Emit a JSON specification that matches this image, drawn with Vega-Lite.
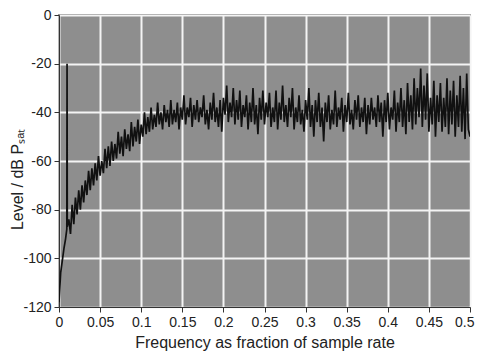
{
"$schema": "https://vega.github.io/schema/vega-lite/v6.json",
"width": 411, "height": 292,
"autosize": "none",
"padding": {"left": 59, "top": 15, "right": 8, "bottom": 48},
"background": "white",
"config": {
  "view": {"fill": "#8e8e8e", "stroke": "#4a4a4a", "strokeWidth": 1.5},
  "axis": {"labelFont": "Liberation Sans", "titleFont": "Liberation Sans", "labelFontSize": 14, "titleFontSize": 16, "titleFontWeight": "normal", "labelColor": "#222", "titleColor": "#222", "gridColor": "#f4f4f4", "gridWidth": 2, "gridOpacity": 1, "domainColor": "#333", "tickColor": "#333", "tickSize": 5, "labelPadding": 3}
},
"data": {"values": [
{"f":0.000,"l":-118},{"f":0.002,"l":-106},{"f":0.004,"l":-101},{"f":0.006,"l":-96},{"f":0.008,"l":-92},{"f":0.0095,"l":-88},{"f":0.0098,"l":-20},{"f":0.0101,"l":-87},
{"f":0.012,"l":-84},{"f":0.014,"l":-90},{"f":0.016,"l":-78},{"f":0.018,"l":-86},{"f":0.020,"l":-75},{"f":0.022,"l":-82},{"f":0.024,"l":-72},{"f":0.026,"l":-80},{"f":0.028,"l":-70},{"f":0.030,"l":-77},
{"f":0.032,"l":-68},{"f":0.034,"l":-74},{"f":0.036,"l":-64},{"f":0.038,"l":-72},{"f":0.040,"l":-63},{"f":0.042,"l":-70},{"f":0.044,"l":-61},{"f":0.046,"l":-68},{"f":0.048,"l":-58},{"f":0.050,"l":-66},
{"f":0.052,"l":-60},{"f":0.054,"l":-65},{"f":0.056,"l":-55},{"f":0.058,"l":-63},{"f":0.060,"l":-54},{"f":0.062,"l":-62},{"f":0.064,"l":-52},{"f":0.066,"l":-60},{"f":0.068,"l":-53},{"f":0.070,"l":-59},
{"f":0.072,"l":-48},{"f":0.074,"l":-57},{"f":0.076,"l":-50},{"f":0.078,"l":-58},{"f":0.080,"l":-47},{"f":0.082,"l":-55},{"f":0.084,"l":-49},{"f":0.086,"l":-56},{"f":0.088,"l":-44},{"f":0.090,"l":-54},
{"f":0.092,"l":-46},{"f":0.094,"l":-52},{"f":0.096,"l":-43},{"f":0.098,"l":-53},{"f":0.100,"l":-45},{"f":0.102,"l":-50},{"f":0.104,"l":-40},{"f":0.106,"l":-49},{"f":0.108,"l":-42},{"f":0.110,"l":-48},
{"f":0.112,"l":-38},{"f":0.114,"l":-47},{"f":0.116,"l":-41},{"f":0.118,"l":-46},{"f":0.120,"l":-36},{"f":0.122,"l":-45},{"f":0.124,"l":-40},{"f":0.126,"l":-47},{"f":0.128,"l":-37},{"f":0.130,"l":-44},
{"f":0.132,"l":-39},{"f":0.134,"l":-46},{"f":0.136,"l":-35},{"f":0.138,"l":-45},{"f":0.140,"l":-39},{"f":0.142,"l":-44},{"f":0.144,"l":-36},{"f":0.146,"l":-47},{"f":0.148,"l":-38},{"f":0.150,"l":-43},
{"f":0.152,"l":-33},{"f":0.154,"l":-45},{"f":0.156,"l":-38},{"f":0.158,"l":-42},{"f":0.160,"l":-34},{"f":0.162,"l":-46},{"f":0.164,"l":-37},{"f":0.166,"l":-43},{"f":0.168,"l":-35},{"f":0.170,"l":-44},
{"f":0.172,"l":-38},{"f":0.174,"l":-42},{"f":0.176,"l":-33},{"f":0.178,"l":-45},{"f":0.180,"l":-39},{"f":0.182,"l":-47},{"f":0.184,"l":-36},{"f":0.186,"l":-43},{"f":0.188,"l":-32},{"f":0.190,"l":-44},
{"f":0.192,"l":-38},{"f":0.194,"l":-46},{"f":0.196,"l":-35},{"f":0.198,"l":-48},{"f":0.200,"l":-34},{"f":0.202,"l":-41},{"f":0.204,"l":-29},{"f":0.206,"l":-44},{"f":0.208,"l":-36},{"f":0.210,"l":-42},
{"f":0.212,"l":-30},{"f":0.214,"l":-45},{"f":0.216,"l":-35},{"f":0.218,"l":-43},{"f":0.220,"l":-31},{"f":0.222,"l":-46},{"f":0.224,"l":-37},{"f":0.226,"l":-42},{"f":0.228,"l":-33},{"f":0.230,"l":-47},
{"f":0.232,"l":-36},{"f":0.234,"l":-44},{"f":0.236,"l":-30},{"f":0.238,"l":-45},{"f":0.240,"l":-37},{"f":0.242,"l":-49},{"f":0.244,"l":-34},{"f":0.246,"l":-43},{"f":0.248,"l":-31},{"f":0.250,"l":-45},
{"f":0.252,"l":-36},{"f":0.254,"l":-42},{"f":0.256,"l":-32},{"f":0.258,"l":-46},{"f":0.260,"l":-38},{"f":0.262,"l":-44},{"f":0.264,"l":-31},{"f":0.266,"l":-47},{"f":0.268,"l":-36},{"f":0.270,"l":-43},
{"f":0.272,"l":-29},{"f":0.274,"l":-44},{"f":0.276,"l":-37},{"f":0.278,"l":-46},{"f":0.280,"l":-34},{"f":0.282,"l":-42},{"f":0.284,"l":-30},{"f":0.286,"l":-47},{"f":0.288,"l":-38},{"f":0.290,"l":-44},
{"f":0.292,"l":-33},{"f":0.294,"l":-45},{"f":0.296,"l":-39},{"f":0.298,"l":-48},{"f":0.300,"l":-35},{"f":0.302,"l":-43},{"f":0.304,"l":-30},{"f":0.306,"l":-46},{"f":0.308,"l":-37},{"f":0.310,"l":-50},
{"f":0.312,"l":-35},{"f":0.314,"l":-44},{"f":0.316,"l":-32},{"f":0.318,"l":-46},{"f":0.320,"l":-38},{"f":0.322,"l":-52},{"f":0.324,"l":-36},{"f":0.326,"l":-44},{"f":0.328,"l":-33},{"f":0.330,"l":-47},
{"f":0.332,"l":-39},{"f":0.334,"l":-45},{"f":0.336,"l":-31},{"f":0.338,"l":-46},{"f":0.340,"l":-38},{"f":0.342,"l":-43},{"f":0.344,"l":-34},{"f":0.346,"l":-48},{"f":0.348,"l":-37},{"f":0.350,"l":-44},
{"f":0.352,"l":-32},{"f":0.354,"l":-45},{"f":0.356,"l":-39},{"f":0.358,"l":-47},{"f":0.360,"l":-35},{"f":0.362,"l":-43},{"f":0.364,"l":-33},{"f":0.366,"l":-46},{"f":0.368,"l":-38},{"f":0.370,"l":-44},
{"f":0.372,"l":-34},{"f":0.374,"l":-49},{"f":0.376,"l":-37},{"f":0.378,"l":-45},{"f":0.380,"l":-34},{"f":0.382,"l":-43},{"f":0.384,"l":-38},{"f":0.386,"l":-46},{"f":0.388,"l":-33},{"f":0.390,"l":-44},
{"f":0.392,"l":-36},{"f":0.394,"l":-50},{"f":0.396,"l":-35},{"f":0.398,"l":-44},{"f":0.400,"l":-32},{"f":0.402,"l":-47},{"f":0.404,"l":-38},{"f":0.406,"l":-43},{"f":0.408,"l":-31},{"f":0.410,"l":-48},
{"f":0.412,"l":-36},{"f":0.414,"l":-44},{"f":0.416,"l":-30},{"f":0.418,"l":-46},{"f":0.420,"l":-35},{"f":0.422,"l":-49},{"f":0.424,"l":-28},{"f":0.426,"l":-44},{"f":0.428,"l":-33},{"f":0.430,"l":-47},
{"f":0.432,"l":-26},{"f":0.434,"l":-45},{"f":0.436,"l":-30},{"f":0.438,"l":-42},{"f":0.440,"l":-22},{"f":0.442,"l":-46},{"f":0.444,"l":-29},{"f":0.446,"l":-43},{"f":0.448,"l":-24},{"f":0.450,"l":-48},
{"f":0.452,"l":-34},{"f":0.454,"l":-45},{"f":0.456,"l":-27},{"f":0.458,"l":-50},{"f":0.460,"l":-33},{"f":0.462,"l":-44},{"f":0.464,"l":-28},{"f":0.466,"l":-48},{"f":0.468,"l":-34},{"f":0.470,"l":-46},
{"f":0.472,"l":-26},{"f":0.474,"l":-49},{"f":0.476,"l":-31},{"f":0.478,"l":-45},{"f":0.480,"l":-27},{"f":0.482,"l":-50},{"f":0.484,"l":-33},{"f":0.486,"l":-46},{"f":0.488,"l":-25},{"f":0.490,"l":-48},
{"f":0.492,"l":-30},{"f":0.494,"l":-51},{"f":0.496,"l":-24},{"f":0.498,"l":-47},{"f":0.500,"l":-50}
]},
"mark": {"type": "line", "color": "#111", "strokeWidth": 1.7, "clip": true},
"encoding": {
  "x": {"field": "f", "type": "quantitative", "scale": {"domain": [0, 0.5], "nice": false, "zero": false},
        "axis": {"values": [0,0.05,0.1,0.15,0.2,0.25,0.3,0.35,0.4,0.45,0.5], "labelExpr": "format(datum.value, '~g')", "title": "Frequency as fraction of sample rate", "titleY": 40, "titleBaseline": "alphabetic", "labelFlush": true, "labelFlushOffset": 4}},
  "y": {"field": "l", "type": "quantitative", "scale": {"domain": [-120, 0], "nice": false},
        "axis": {"values": [-120,-100,-80,-60,-40,-20,0], "labelExpr": "datum.value == 0 ? '0' : '-' + abs(datum.value)", "title": "Level / dB Pₛₐₜ", "titleX": -42, "titleY": 164, "titleAngle": -90, "titleAlign": "center", "titleBaseline": "middle", "labelFlush": false}}
}
}
